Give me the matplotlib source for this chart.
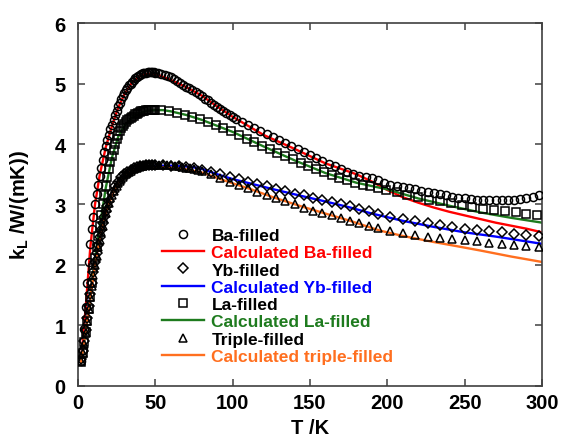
import numpy as np
import matplotlib
matplotlib.use("Agg")
import matplotlib.pyplot as plt

plt.rcParams['font.family'] = ['Liberation Sans', 'DejaVu Sans']
plt.rcParams['font.weight'] = 'bold'
plt.rcParams['mathtext.fontset'] = 'custom'
plt.rcParams['mathtext.rm'] = 'Liberation Sans:bold'
plt.rcParams['mathtext.it'] = 'Liberation Sans:bold'
plt.rcParams['mathtext.bf'] = 'Liberation Sans:bold'

T_ba = [2, 3, 4, 5, 6, 7, 8, 9, 10, 11, 12, 13, 14, 15, 16, 17, 18, 19,
        20, 21, 22, 23, 24, 25, 26, 27, 28, 29, 30, 31, 32, 33, 34, 35, 36, 37, 38, 39,
        40, 41, 42, 43, 44, 45, 46, 47, 48, 49, 50,
        52, 54, 56, 58, 60, 62, 64, 66, 68, 70, 72, 74, 76, 78, 80, 82, 84, 86, 88, 90,
        92, 94, 96, 98, 100, 102, 106, 110, 114, 118, 122, 126, 130,
        134, 138, 142, 146, 150, 154, 158, 162, 166, 170, 174, 178, 182, 186, 190, 194, 198,
        202, 206, 210, 214, 218, 222, 226, 230, 234, 238, 242, 246, 250, 254, 258, 262, 266,
        270, 274, 278, 282, 286, 290, 294, 298]
k_ba = [0.42, 0.6, 0.95, 1.3, 1.7, 2.05, 2.35, 2.6, 2.8, 3.0, 3.17, 3.32, 3.47, 3.6, 3.73, 3.86, 3.97, 4.06,
        4.15, 4.24, 4.32, 4.4, 4.48, 4.55, 4.62, 4.68, 4.74, 4.79, 4.84, 4.89, 4.93, 4.97, 5.0, 5.03, 5.06, 5.09, 5.11, 5.13,
        5.14, 5.16, 5.17, 5.18, 5.18, 5.19, 5.19, 5.19, 5.19, 5.19, 5.18,
        5.17, 5.15, 5.14, 5.12, 5.1, 5.07, 5.04, 5.01, 4.98, 4.95, 4.92, 4.89, 4.86, 4.83, 4.79, 4.75, 4.72, 4.68, 4.65, 4.61,
        4.58, 4.54, 4.51, 4.48, 4.45, 4.42, 4.37, 4.32, 4.27, 4.22, 4.16, 4.11, 4.06,
        4.01, 3.96, 3.91, 3.86, 3.81, 3.77, 3.72, 3.67, 3.63, 3.58, 3.54, 3.5, 3.47, 3.45, 3.43, 3.4, 3.36,
        3.33, 3.31, 3.29, 3.27, 3.25, 3.23, 3.21, 3.19, 3.17, 3.15, 3.13, 3.11, 3.1, 3.09, 3.08, 3.08, 3.07,
        3.07, 3.07, 3.08, 3.08, 3.09, 3.11, 3.13, 3.16]

T_yb = [2, 3, 4, 5, 6, 7, 8, 9, 10, 11, 12, 13, 14, 15, 16, 17, 18, 19, 20, 22, 24, 26, 28, 30,
        32, 34, 36, 38, 40, 42, 44, 46, 48, 50,
        55, 60, 65, 70, 75, 80, 86, 92, 98, 104, 110, 116, 122, 128, 134, 140, 146, 152, 158,
        164, 170, 176, 182, 188, 194, 202, 210, 218, 226, 234, 242, 250, 258, 266, 274, 282, 290, 298]
k_yb = [0.45, 0.58, 0.74, 0.92, 1.12, 1.32, 1.52, 1.7, 1.88, 2.05, 2.2, 2.33, 2.46, 2.58, 2.69, 2.79, 2.89, 2.98, 3.06, 3.19, 3.3, 3.38, 3.45, 3.5,
        3.54, 3.57, 3.6, 3.62, 3.63, 3.64, 3.65, 3.65, 3.65, 3.65,
        3.65, 3.64, 3.63, 3.62, 3.6, 3.57, 3.54, 3.5, 3.46, 3.42, 3.38, 3.34, 3.3, 3.26, 3.22, 3.18, 3.15, 3.11, 3.07,
        3.04, 3.0, 2.97, 2.93, 2.89, 2.85, 2.8, 2.76, 2.72, 2.69, 2.66, 2.63, 2.6, 2.58, 2.56, 2.54, 2.52, 2.5, 2.48]

T_la = [2, 3, 4, 5, 6, 7, 8, 9, 10, 11, 12, 13, 14, 15, 16, 17, 18, 19,
        20, 21, 22, 23, 24, 25, 26, 27, 28, 29, 30, 31, 32, 33, 34, 35, 36, 37, 38, 39,
        40, 41, 42, 43, 44, 45, 46, 47, 48, 49, 50,
        54, 59, 64, 69, 74, 79, 84, 89, 94, 99, 104, 109, 114, 119, 124, 129, 134, 139, 144, 149,
        154, 159, 164, 169, 174, 179, 184, 189, 194, 199, 206, 213, 220, 227, 234, 241, 248, 255,
        262, 269, 276, 283, 290, 297]
k_la = [0.4, 0.55, 0.72, 0.9, 1.08, 1.27, 1.47, 1.7, 1.95, 2.12, 2.3, 2.48, 2.65, 2.83, 3.0, 3.15, 3.3, 3.45,
        3.58, 3.7, 3.8, 3.9, 4.0, 4.08, 4.15, 4.21, 4.26, 4.3, 4.33, 4.36, 4.39, 4.41, 4.43, 4.45, 4.47, 4.49, 4.5, 4.52,
        4.53, 4.54, 4.55, 4.55, 4.56, 4.56, 4.57, 4.57, 4.57, 4.57, 4.57,
        4.56, 4.54, 4.51, 4.48, 4.44, 4.41, 4.36, 4.31, 4.26, 4.21, 4.15, 4.09, 4.03, 3.97, 3.91, 3.85, 3.8, 3.75, 3.69, 3.64,
        3.59, 3.54, 3.49, 3.44, 3.4, 3.36, 3.33, 3.3, 3.27, 3.24, 3.2, 3.16, 3.12, 3.08, 3.05, 3.02, 2.99, 2.96,
        2.93, 2.91, 2.89, 2.87, 2.85, 2.83]

T_tr = [2, 3, 4, 5, 6, 7, 8, 9, 10, 11, 12, 13, 14, 15, 16, 17, 18, 19,
        20, 21, 22, 23, 24, 25, 26, 27, 28, 29, 30, 31, 32, 33, 34, 35, 36, 37, 38, 39,
        40, 41, 42, 43, 44, 45, 46, 47, 48, 49, 50,
        52.5, 55, 57.5, 60, 62.5, 65, 67.5, 70, 72.5, 75, 77.5, 80, 86, 92, 98, 104, 110, 116, 122, 128, 134, 140, 146, 152, 158,
        164, 170, 176, 182, 188, 194, 202, 210, 218, 226, 234, 242, 250, 258, 266, 274, 282, 290, 298]
k_tr = [0.42, 0.55, 0.7, 0.88, 1.07, 1.27, 1.47, 1.65, 1.83, 2.0, 2.15, 2.29, 2.42, 2.54, 2.65, 2.76, 2.86, 2.95,
        3.03, 3.1, 3.16, 3.22, 3.27, 3.31, 3.35, 3.39, 3.42, 3.45, 3.48, 3.5, 3.52, 3.54, 3.56, 3.58, 3.59, 3.6, 3.61, 3.62,
        3.63, 3.64, 3.64, 3.65, 3.65, 3.66, 3.66, 3.66, 3.66, 3.66, 3.66,
        3.66, 3.66, 3.66, 3.65, 3.64, 3.63, 3.62, 3.61, 3.6, 3.58, 3.57, 3.55, 3.5, 3.44, 3.38, 3.33, 3.27, 3.21, 3.15, 3.1, 3.05, 3.0, 2.95, 2.9, 2.86,
        2.82, 2.77, 2.73, 2.69, 2.65, 2.61, 2.57, 2.53, 2.5, 2.47, 2.45, 2.43, 2.41, 2.39, 2.37, 2.35, 2.33, 2.32, 2.3]

# calculated curves
Tc_ba = [2, 5, 8, 11, 14, 18, 22, 26, 30, 35, 40, 45, 50, 60, 70, 80, 90, 100, 120, 140, 160,
         180, 190, 200, 210, 220, 230, 240, 250, 260, 270, 280, 290, 300]
kc_ba = [0.4, 1.3, 2.3, 3.0, 3.48, 3.95, 4.3, 4.6, 4.82, 5.02, 5.12, 5.16, 5.16, 5.06, 4.94, 4.8, 4.62, 4.45, 4.15, 3.92, 3.68,
         3.5, 3.38, 3.24, 3.12, 3.03, 2.95, 2.88, 2.82, 2.76, 2.7, 2.65, 2.6, 2.54]

Tc_yb = [2, 5, 8, 11, 14, 18, 22, 26, 30, 35, 40, 50, 60, 70, 79, 90, 100, 111, 125, 143, 160,
         176, 190, 210, 230, 250, 270, 285, 300]
kc_yb = [0.42, 0.92, 1.5, 2.03, 2.45, 2.88, 3.18, 3.37, 3.49, 3.57, 3.62, 3.64, 3.64, 3.63, 3.6, 3.5, 3.42, 3.35, 3.26, 3.15, 3.05,
         2.95, 2.85, 2.73, 2.63, 2.54, 2.47, 2.41, 2.35]

Tc_la = [2, 5, 8, 11, 14, 18, 22, 26, 30, 35, 40, 45, 50, 55, 60, 70, 80, 90, 100, 120, 140, 160,
         180, 200, 220, 240, 260, 280, 300]
kc_la = [0.4, 0.9, 1.47, 2.1, 2.62, 3.28, 3.78, 4.12, 4.3, 4.44, 4.51, 4.55, 4.56, 4.56, 4.54, 4.48, 4.4, 4.3, 4.2, 3.96, 3.73, 3.52,
         3.36, 3.25, 3.1, 2.98, 2.87, 2.78, 2.7]

Tc_tr = [2, 5, 8, 11, 14, 18, 22, 26, 30, 35, 40, 50, 60, 70, 80, 90, 100, 111, 125, 143, 160,
         176, 195, 210, 230, 243, 260, 280, 300]
kc_tr = [0.4, 0.9, 1.45, 2.0, 2.42, 2.86, 3.15, 3.35, 3.47, 3.56, 3.6, 3.62, 3.61, 3.58, 3.53, 3.44, 3.35, 3.26, 3.13, 2.98, 2.85,
         2.73, 2.57, 2.48, 2.38, 2.32, 2.24, 2.14, 2.05]

c_red = '#ff0000'
c_blue = '#0000ff'
c_green = '#1e7b1e'
c_orange = '#ff6f1f'

fig = plt.figure(figsize=(5.7, 4.39), dpi=100)
ax = fig.add_axes([0.1368, 0.1185, 0.8140, 0.8268])

mk = dict(linestyle='none', mfc='none', mec='black', mew=1.1, ms=5.8, zorder=3)
lw = 1.7

l_ba, = ax.plot(Tc_ba, kc_ba, color=c_red, lw=lw, zorder=2)
l_yb, = ax.plot(Tc_yb, kc_yb, color=c_blue, lw=lw, zorder=2)
l_la, = ax.plot(Tc_la, kc_la, color=c_green, lw=lw, zorder=2)
l_tr, = ax.plot(Tc_tr, kc_tr, color=c_orange, lw=lw, zorder=2)

m_ba, = ax.plot(T_ba, k_ba, marker='o', **mk)
m_yb, = ax.plot(T_yb, k_yb, marker='D', **dict(mk, ms=5.0))
m_la, = ax.plot(T_la, k_la, marker='s', **mk)
m_tr, = ax.plot(T_tr, k_tr, marker='^', **mk)

ax.set_xlim(0, 300)
ax.set_ylim(0, 6)
ax.set_xticks(np.arange(0, 301, 50))
ax.set_yticks(np.arange(0, 7, 1))
ax.tick_params(direction='in', length=5, width=1.1, top=True, right=True,
               labelsize=14.5, color='#404040')
ax.tick_params(axis='x', pad=5)
ax.tick_params(axis='y', pad=9)
for lab in ax.get_xticklabels() + ax.get_yticklabels():
    lab.set_fontweight('bold')
for sp in ax.spines.values():
    sp.set_color('#404040')
    sp.set_linewidth(1.2)

ax.set_xlabel('T /K', fontsize=14.5, fontweight='bold')
ax.set_ylabel(r'$\mathrm{k_L}$ /W/(mK))', fontsize=14.5, fontweight='bold')
ax.xaxis.set_label_coords(0.5, -0.087)
ax.yaxis.set_label_coords(-0.102, 0.5)

handles = [m_ba, l_ba, m_yb, l_yb, m_la, l_la, m_tr, l_tr]
labels = ['Ba-filled', 'Calculated Ba-filled', 'Yb-filled', 'Calculated Yb-filled',
          'La-filled', 'Calculated La-filled', 'Triple-filled', 'Calculated triple-filled']
leg = ax.legend(handles, labels, loc='upper left', bbox_to_anchor=(0.181, 0.436),
                frameon=False, handlelength=2.45, handletextpad=0.4,
                labelspacing=0.125, borderpad=0, borderaxespad=0,
                prop={'weight': 'bold', 'size': 12.5})
text_cols = ['black', c_red, 'black', c_blue, 'black', c_green, 'black', c_orange]
for t, c in zip(leg.get_texts(), text_cols):
    t.set_color(c)

fig.savefig('out.png', dpi=100)
